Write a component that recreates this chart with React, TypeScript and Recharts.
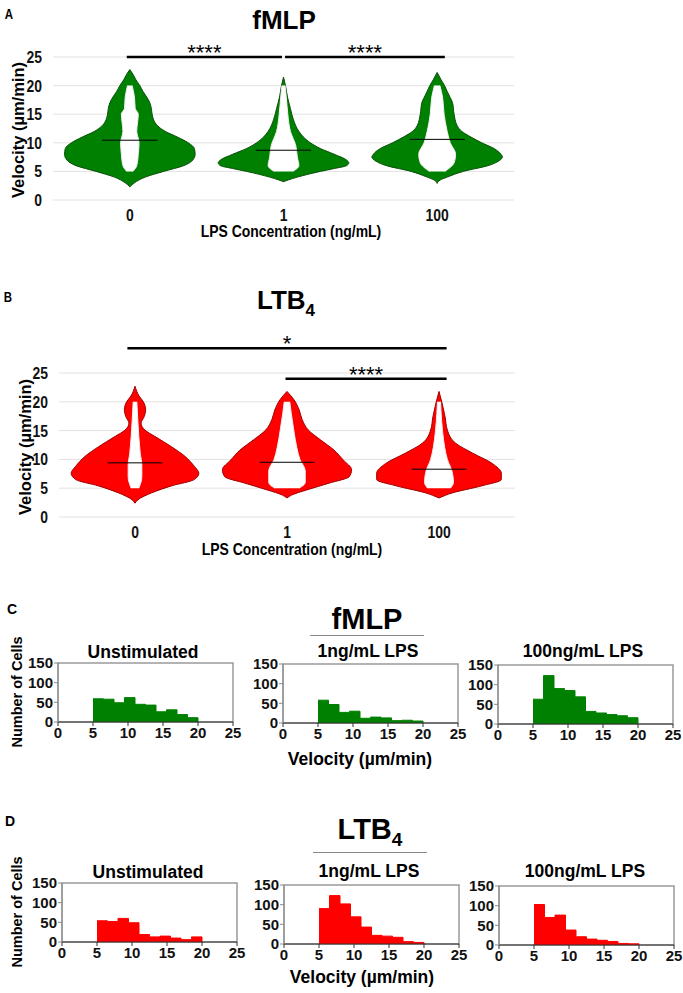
import React from 'react'
import { ComposedChart, Area, XAxis, YAxis, CartesianGrid, ReferenceLine, ReferenceArea } from 'recharts'

const LPS_LABELS = ['0', '1', '100']
const VELOCITY_TICKS = [0, 5, 10, 15, 20, 25]

// violin outlines: [velocity, half width in category units]
const FMLP_0 = [[2.3, 0], [3, 0.03], [4, 0.1], [5, 0.22], [6, 0.35], [7, 0.41], [8, 0.425], [9, 0.42], [10, 0.38], [11, 0.31], [12, 0.23], [13, 0.18], [14, 0.155], [15, 0.145], [16, 0.14], [17, 0.13], [18, 0.11], [19, 0.085], [20, 0.065], [21, 0.04], [22, 0.02], [22.8, 0]]
const FMLP_1 = [[3.2, 0], [3.5, 0.03], [4, 0.09], [5, 0.24], [5.5, 0.33], [6, 0.41], [6.5, 0.425], [7, 0.41], [8, 0.33], [9, 0.24], [10, 0.175], [11, 0.13], [12, 0.1], [14, 0.065], [16, 0.045], [18, 0.026], [20, 0.013], [21.5, 0]]
const FMLP_100 = [[2.9, 0], [3.5, 0.02], [4, 0.065], [5, 0.17], [6, 0.33], [7, 0.41], [7.5, 0.425], [8, 0.415], [9, 0.37], [10, 0.29], [11, 0.22], [12, 0.16], [13, 0.13], [15, 0.11], [17, 0.1], [18, 0.083], [19, 0.065], [20, 0.048], [21, 0.026], [22.3, 0]]

const LTB4_0 = [[2.4, 0], [3, 0.02], [4.2, 0.11], [5.4, 0.24], [6.5, 0.39], [7.6, 0.42], [8.8, 0.39], [10.5, 0.33], [12.2, 0.24], [14, 0.13], [15.1, 0.065], [16.3, 0.04], [17.4, 0.06], [18.6, 0.07], [20, 0.055], [21, 0.027], [22.7, 0]]
const LTB4_1 = [[3.3, 0], [3.8, 0.03], [4.7, 0.13], [5.9, 0.28], [7, 0.41], [8.2, 0.425], [9.9, 0.37], [11.6, 0.31], [13.4, 0.22], [15.1, 0.14], [16.9, 0.1], [18.6, 0.08], [20.4, 0.045], [21.8, 0]]
const LTB4_100 = [[3.3, 0], [4.2, 0.09], [5.4, 0.28], [6.5, 0.41], [7.6, 0.41], [9.3, 0.35], [11.1, 0.22], [12.8, 0.11], [15.1, 0.055], [17.4, 0.04], [19.8, 0.02], [21.8, 0]]

// white dot columns: [velocity, half width]
const FMLP_DOTS_0 = [[5, 0.02], [6, 0.045], [8, 0.055], [10, 0.06], [12, 0.045], [15, 0.055], [16, 0.035], [18, 0.03], [20, 0.015]]
const FMLP_DOTS_1 = [[5, 0.06], [6, 0.1], [7.5, 0.09], [9.5, 0.08], [12, 0.045], [15, 0.028], [18, 0.018], [20, 0.01]]
const FMLP_DOTS_100 = [[5, 0.05], [6.5, 0.11], [8, 0.12], [10, 0.085], [12, 0.065], [15, 0.045], [18, 0.035], [20, 0.018]]
const LTB4_DOTS_0 = [[5, 0.025], [7, 0.045], [9, 0.045], [11, 0.035], [14, 0.025], [17, 0.018], [20, 0.012]]
const LTB4_DOTS_1 = [[5, 0.08], [6, 0.12], [8, 0.12], [10, 0.085], [12, 0.065], [15, 0.045], [18, 0.028], [20, 0.018]]
const LTB4_DOTS_100 = [[5, 0.075], [6, 0.095], [8, 0.085], [10, 0.055], [12, 0.038], [15, 0.023], [18, 0.014], [20, 0.01]]

const FMLP_MEANS = [10.45, 8.7, 10.6]
const LTB4_MEANS = [9.4, 9.5, 8.3]

// significance bars: [from, to, velocity level, label]
const FMLP_SIG = [[0.48, 1.49, 25, '****'], [1.51, 2.55, 25, '****']]
const LTB4_SIG = [[0.45, 2.55, 29.3, '*'], [1.49, 2.55, 24, '****']]

// histograms
const BIN_EDGES = [5, 6.5, 8, 9.5, 11, 12.5, 14, 15.5, 17, 18.5, 20]
const FMLP_UNSTIM = [59, 58, 49, 62, 45, 43, 26, 31, 19, 11]
const FMLP_1NG = [58, 47, 27, 30, 12, 15, 13, 6, 7, 5]
const FMLP_100NG = [63, 123, 90, 85, 69, 32, 28, 24, 21, 16]
const LTB4_UNSTIM = [54, 52, 60, 49, 19, 13, 15, 10, 6, 13]
const LTB4_1NG = [90, 123, 102, 69, 43, 22, 20, 17, 6, 4]
const LTB4_100NG = [103, 70, 76, 38, 21, 15, 12, 9, 4, 3]

const SANS = "'Liberation Sans', Arial, sans-serif"

function T({ x, y, size, children, rotate, narrow, weight = 'bold' }: any) {
  let tf = 'translate(-50%, -50%)'
  if (rotate) tf += ' rotate(-90deg)'
  if (narrow) tf += ' scaleX(0.82)'
  return (
    <div style={{
      position: 'absolute', left: x, top: y, fontSize: size, fontFamily: SANS, fontWeight: weight,
      lineHeight: 1, whiteSpace: 'nowrap', color: '#000', transform: tf,
    }}>{children}</div>
  )
}

// condensed tick text (the original uses a narrow face)
function NarrowTick({ x, y, payload, textAnchor, dy, fmt }: any) {
  return (
    <text transform={`translate(${x},${y}) scale(0.82,1)`} textAnchor={textAnchor} dy={dy}
      fill="#111" fontSize={17} fontWeight="bold" fontFamily={SANS}>
      {fmt ? fmt(payload.value) : payload.value}
    </text>
  )
}

const lpsLabel = (v: number) => LPS_LABELS[Math.round(v - 0.5)]

function SigLabel({ viewBox, value }: any) {
  const x = viewBox.x + viewBox.width / 2
  return (
    <text x={x} y={viewBox.y + 3} textAnchor="middle" fill="#000" fontSize={22} fontFamily={SANS}>{value}</text>
  )
}

function ViolinChart({ top, height, margin, violins, dots, means, sig, fill, stroke }: any) {
  return (
    <div style={{ position: 'absolute', left: 0, top }}>
      <ComposedChart layout="vertical" width={683} height={height} margin={margin}>
        <CartesianGrid horizontal vertical={false} stroke="#e2e2e2" />
        <XAxis type="number" domain={[0, 3]} ticks={[0.5, 1.5, 2.5]} interval={0}
          axisLine={false} tickLine={false} height={30} tickMargin={3}
          tick={(p: any) => <NarrowTick {...p} dy="0.71em" fmt={lpsLabel} />} />
        <YAxis type="number" dataKey="v" domain={[0, 25]} ticks={VELOCITY_TICKS} width={30} reversed interval={0}
          axisLine={false} tickLine={false} tickMargin={5}
          tick={(p: any) => <NarrowTick {...p} dy="0.355em" />} />
        {violins.map((pts: number[][], i: number) => (
          <Area key={'v' + i} data={pts.map(([v, w]) => ({ v, r: [i + 0.5 - w, i + 0.5 + w] }))} dataKey="r"
            type="monotone" fill={fill} fillOpacity={1} stroke={stroke} strokeWidth={1} isAnimationActive={false} />
        ))}
        {dots.map((pts: number[][], i: number) => (
          <Area key={'d' + i} data={pts.map(([v, w]) => ({ v, r: [i + 0.5 - w, i + 0.5 + w] }))} dataKey="r"
            type="monotone" fill="#ffffff" fillOpacity={1} stroke="#f0f0f0" strokeWidth={1} isAnimationActive={false} />
        ))}
        {means.map((m: number, i: number) => (
          <ReferenceLine key={'m' + i} segment={[{ x: i + 0.5 - 0.18, y: m }, { x: i + 0.5 + 0.18, y: m }]}
            stroke="#000" strokeWidth={1} ifOverflow="visible" />
        ))}
        {sig.map(([a, b, y, label]: any, i: number) => (
          <ReferenceLine key={'s' + i} segment={[{ x: a, y }, { x: b, y }]} stroke="#000" strokeWidth={2.5} ifOverflow="visible"
            label={<SigLabel value={label} />} />
        ))}
      </ComposedChart>
    </div>
  )
}

function Histogram({ left, top, counts, color }: any) {
  const rows = BIN_EDGES.map((x, i) => ({ x, c: i < counts.length ? counts[i] : 0 }))
  return (
    <div style={{ position: 'absolute', left: left - 42, top: top - 10 }}>
      <ComposedChart width={230} height={94} margin={{ top: 10, right: 13, bottom: 0, left: 2 }} data={rows}>
        <ReferenceArea x1={0} x2={25} y1={0} y2={150} fill="none" stroke="#9a9a9a" strokeWidth={1.5} />
        <Area type="stepAfter" dataKey="c" fill={color} fillOpacity={1} stroke={color} isAnimationActive={false} />
        <XAxis type="number" dataKey="x" domain={[0, 25]} ticks={[0, 5, 10, 15, 20, 25]} height={25} interval={0}
          tickSize={4} tickMargin={1} stroke="#333"
          tick={{ fill: '#111', fontSize: 15, fontWeight: 'bold', fontFamily: SANS }} />
        <YAxis type="number" domain={[0, 150]} ticks={[0, 50, 100, 150]} width={40} interval={0}
          tickSize={4} tickMargin={1} stroke="#8a8a8a"
          tick={{ fill: '#111', fontSize: 15, fontWeight: 'bold', fontFamily: SANS }} />
      </ComposedChart>
    </div>
  )
}

export default function App() {
  return (
    <div style={{ position: 'absolute', left: 0, top: 0, width: 683, height: 993, background: '#fff', overflow: 'hidden' }}>
      {/* A */}
      <T x={9} y={14} size={14} narrow>A</T>
      <T x={284} y={20} size={26}>fMLP</T>
      <ViolinChart top={0} height={240} margin={{ top: 57, right: 169, bottom: 10, left: 23 }}
        violins={[FMLP_0, FMLP_1, FMLP_100]} dots={[FMLP_DOTS_0, FMLP_DOTS_1, FMLP_DOTS_100]}
        means={FMLP_MEANS} sig={FMLP_SIG} fill="#008000" stroke="#0b500b" />
      <T x={18} y={130} size={16.5} rotate>Velocity (µm/min)</T>
      <T x={291} y={231} size={17} narrow>LPS Concentration (ng/mL)</T>

      {/* B */}
      <T x={8} y={297} size={14} narrow>B</T>
      <T x={286} y={303} size={26}>LTB<sub style={{ fontSize: 17 }}>4</sub></T>
      <ViolinChart top={270} height={290} margin={{ top: 103, right: 168, bottom: 13, left: 29 }}
        violins={[LTB4_0, LTB4_1, LTB4_100]} dots={[LTB4_DOTS_0, LTB4_DOTS_1, LTB4_DOTS_100]}
        means={LTB4_MEANS} sig={LTB4_SIG} fill="#ff0000" stroke="#a00000" />
      <T x={25} y={447} size={16.5} rotate>Velocity (µm/min)</T>
      <T x={292} y={549} size={17} narrow>LPS Concentration (ng/mL)</T>

      {/* C */}
      <T x={12} y={609} size={14}>C</T>
      <T x={367} y={619} size={29}>fMLP</T>
      <div style={{ position: 'absolute', left: 310, top: 635, width: 114, height: 1, background: '#888' }} />
      <T x={143} y={653} size={17.5}>Unstimulated</T>
      <T x={368} y={652} size={17.5}>1ng/mL LPS</T>
      <T x={583} y={652} size={17.5}>100ng/mL LPS</T>
      <Histogram left={58} top={663} counts={FMLP_UNSTIM} color="#008000" />
      <Histogram left={283} top={664} counts={FMLP_1NG} color="#008000" />
      <Histogram left={498} top={665} counts={FMLP_100NG} color="#008000" />
      <T x={17} y={692} size={14.5} rotate>Number of Cells</T>
      <T x={360} y={760} size={17.5}>Velocity (µm/min)</T>

      {/* D */}
      <T x={10} y={821} size={14}>D</T>
      <T x={370} y={832} size={29}>LTB<sub style={{ fontSize: 19 }}>4</sub></T>
      <div style={{ position: 'absolute', left: 313, top: 852, width: 114, height: 1, background: '#888' }} />
      <T x={148} y={873} size={17.5}>Unstimulated</T>
      <T x={369} y={872} size={17.5}>1ng/mL LPS</T>
      <T x={585} y={872} size={17.5}>100ng/mL LPS</T>
      <Histogram left={62} top={883} counts={LTB4_UNSTIM} color="#ff0000" />
      <Histogram left={284} top={885} counts={LTB4_1NG} color="#ff0000" />
      <Histogram left={499} top={886} counts={LTB4_100NG} color="#ff0000" />
      <T x={17} y={912} size={14.5} rotate>Number of Cells</T>
      <T x={362} y={978} size={17.5}>Velocity (µm/min)</T>
    </div>
  )
}
